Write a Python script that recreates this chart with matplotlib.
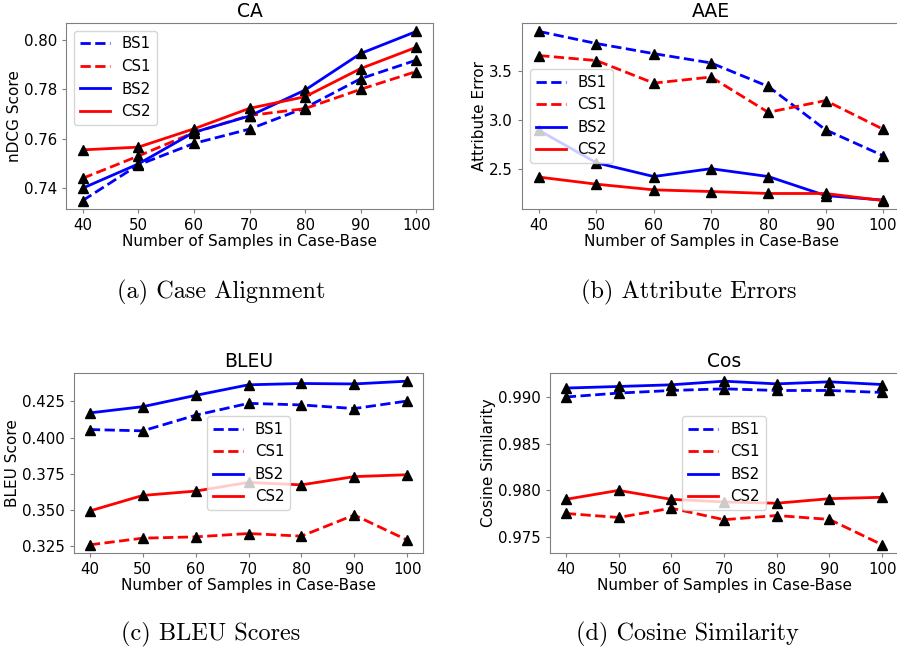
import matplotlib
matplotlib.use("Agg")
import matplotlib.pyplot as plt

# samples in case-base
samples = [40, 50, 60, 70, 80, 90, 100]
labels = ["BS1", "CS1", "BS2", "CS2"]

# CA (nDCG)
ca_bs1 = [0.7350, 0.7494, 0.7581, 0.7639, 0.7725, 0.7843, 0.7918]
ca_cs1 = [0.7440, 0.7530, 0.7625, 0.7694, 0.7722, 0.7800, 0.7872]
ca_bs2 = [0.7400, 0.7498, 0.7626, 0.7692, 0.7797, 0.7945, 0.8034]
ca_cs2 = [0.7555, 0.7566, 0.7640, 0.7723, 0.7770, 0.7884, 0.7970]

# AAE (attribute error)
aae_bs1 = [3.900, 3.777, 3.674, 3.579, 3.339, 2.897, 2.634]
aae_cs1 = [3.654, 3.603, 3.373, 3.435, 3.075, 3.195, 2.904]
aae_bs2 = [2.890, 2.560, 2.420, 2.500, 2.420, 2.226, 2.180]
aae_cs2 = [2.414, 2.342, 2.284, 2.267, 2.247, 2.247, 2.175]

# BLEU
bleu_bs1 = [0.4055, 0.4046, 0.4154, 0.4236, 0.4225, 0.4200, 0.4252]
bleu_cs1 = [0.3259, 0.3305, 0.3314, 0.3337, 0.3319, 0.3465, 0.3292]
bleu_bs2 = [0.4170, 0.4213, 0.4291, 0.4364, 0.4373, 0.4370, 0.4389]
bleu_cs2 = [0.3493, 0.3600, 0.3630, 0.3690, 0.3673, 0.3730, 0.3743]

# Cosine similarity
cos_bs1 = [0.99004, 0.99046, 0.99074, 0.99092, 0.99074, 0.99074, 0.99053]
cos_cs1 = [0.97752, 0.97709, 0.97809, 0.97685, 0.97730, 0.97688, 0.97415]
cos_bs2 = [0.99100, 0.99117, 0.99135, 0.99174, 0.99145, 0.99167, 0.99138]
cos_cs2 = [0.97904, 0.98000, 0.97904, 0.97876, 0.97862, 0.97911, 0.97926]

W, H = 897, 652
fig = plt.figure(figsize=(W / 100, H / 100), dpi=100)


def box(l, r, t, b):
    return [l / W, 1 - b / H, (r - l) / W, (b - t) / H]


panels = [
    (box(66, 433, 23, 209), "CA", "nDCG Score", [ca_bs1, ca_cs1, ca_bs2, ca_cs2], "upper left",
     "(a) Case Alignment", (221, 292)),
    (box(522, 900, 23, 209), "AAE", "Attribute Error", [aae_bs1, aae_cs1, aae_bs2, aae_cs2], "center left",
     "(b) Attribute Errors", (689, 292)),
    (box(74, 423, 373, 553), "BLEU", "BLEU Score", [bleu_bs1, bleu_cs1, bleu_bs2, bleu_cs2], "center",
     "(c) BLEU Scores", (211, 634)),
    (box(550, 898, 373, 553), "Cos", "Cosine Similarity", [cos_bs1, cos_cs1, cos_bs2, cos_cs2], "center",
     "(d) Cosine Similarity", (687, 634)),
]

styles = [("blue", "--"), ("red", "--"), ("blue", "-"), ("red", "-")]

for pos, title, ylab, series, loc, cap, cxy in panels:
    ax = fig.add_axes(pos)
    for ys, lab, (c, ls) in zip(series, labels, styles):
        ax.plot(samples, ys, color=c, linestyle=ls, linewidth=2, label=lab)
        ax.plot(samples, ys, "^", color="k", markersize=7)
    ax.set_title(title, fontsize=13.5, pad=4)
    ax.set_ylabel(ylab, fontsize=11, labelpad=1.5)
    ax.set_xlabel("Number of Samples in Case-Base", fontsize=11, labelpad=1)
    ax.set_xticks(samples)
    ax.tick_params(labelsize=10.8, length=3, color="0.5")
    for s in ax.spines.values():
        s.set_color("0.5")
    ax.legend(loc=loc, fontsize=10.8)
    fig.text(cxy[0] / W, 1 - cxy[1] / H, cap, ha="center", va="center",
             family="cmr10", fontsize=17.5)

plt.savefig("out.png", dpi=100)
